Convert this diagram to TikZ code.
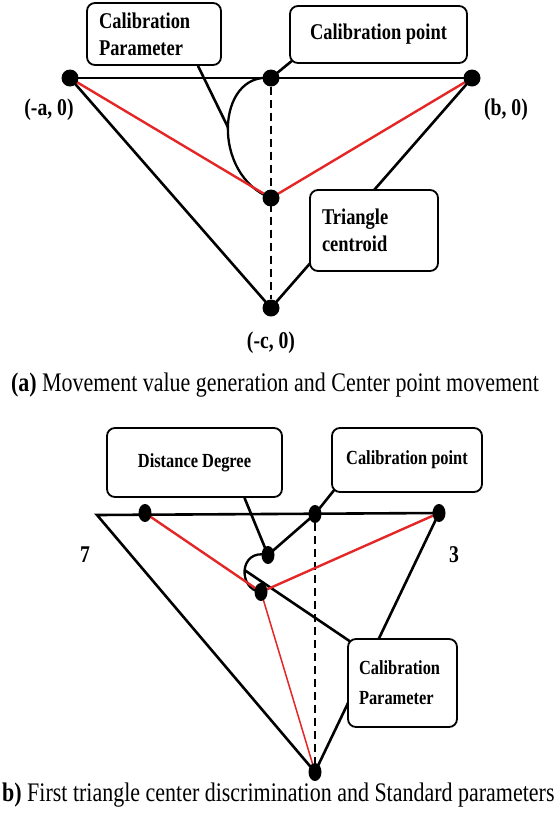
\documentclass[tikz,border=0pt]{standalone}
\usepackage{fontspec}
\setmainfont[FakeStretch=0.82]{Liberation Serif}
\usepackage{xcolor}
\usetikzlibrary{shapes.geometric,calc}
\definecolor{tcredc}{RGB}{228,38,38}
\pgfdeclarelayer{bg}
\pgfsetlayers{bg,main}
\tikzset{
tcbox/.style={rectangle,rounded corners=8pt,draw,line width=1.8pt,fill=white,inner sep=0pt},
tcboxa/.style={tcbox,font=\fontsize{22.5}{27}\selectfont\bfseries},
tcboxb/.style={tcbox,font=\fontsize{20}{30}\selectfont\bfseries},
tcdot/.style={circle,fill,inner sep=0pt,minimum size=17pt},
tcdotb/.style={ellipse,fill,inner sep=0pt,minimum width=13pt,minimum height=18pt},
tcline/.style={line width=2.6pt},
tcarc/.style={line width=2.3pt},
tcred/.style={line width=2.4pt,tcredc},
tcdash/.style={line width=2pt,dash pattern=on 8pt off 5pt},
tclabel/.style={font=\fontsize{24}{28}\selectfont\bfseries,inner sep=0pt},
tccap/.style={font=\fontsize{26.8}{30}\selectfont,inner sep=0pt}
}
\begin{document}
\begin{tikzpicture}[
x=1pt,
y=1pt
]
\useasboundingbox (0,0) rectangle (560,-815);
% (a) movement value generation
\node[tcboxa,align=left,text width=110pt,minimum width=134pt,minimum height=62pt]
  (calparA) at (154,-34) {Calibration\\Parameter};
\node[tcboxa,minimum width=177pt,minimum height=57pt]
  (calptA) at (378.5,-34.5) {Calibration point};
\node[tcboxa,align=left,text width=104pt,minimum width=128pt,minimum height=81pt]
  (tricenA) at (374,-230.5) {Triangle\\centroid};
\node[tcdot] (A) at (70,-78) {};
\node[tcdot] (M) at (271,-78) {};
\node[tcdot] (B) at (472,-78) {};
\node[tcdot] (C) at (271,-198) {};
\node[tcdot] (D) at (271,-308) {};
\node[tclabel] (am) at (49,-110) {(-a, 0)};
\node[tclabel] (bz) at (506,-110) {(b, 0)};
\node[tclabel] (cz) at (271,-343) {(-c, 0)};
\node[tccap] (capA) at (275,-385) {\textbf{(a)} Movement value generation and Center point movement};
\begin{pgfonlayer}{bg}
\draw[tcline] (A.center) -- (B.center);
\draw[tcline] (A.center) -- (D.center) -- (B.center);
\draw[tcdash] (M) -- (D);
\draw[tcarc] (M.center) .. controls (216,-72) and (211,-175) .. (C.center) coordinate[pos=0.5] (arcpt);
\draw[tcline] (arcpt) -- ($(calparA.south)+(44,0)$);
\draw[tcline] (M.center) -- ($(calptA.south west)+(4,4)$);
\draw[tcred] (A.center) -- (C.center) -- (B.center);
\end{pgfonlayer}
% (b) first triangle center discrimination
\node[tcboxb,minimum width=175pt,minimum height=69pt]
  (distdeg) at (194.5,-462.5) {Distance Degree};
\node[tcboxb,minimum width=150pt,minimum height=64pt]
  (calptB) at (407,-460) {Calibration point};
\node[tcboxb,align=left,text width=87pt,minimum width=109pt,minimum height=88pt]
  (calparB) at (402.5,-683) {Calibration\\Parameter};
\coordinate (L) at (97,-515);
\node[tcdotb] (P1) at (145,-513) {};
\node[tcdotb] (P2) at (315,-514) {};
\node[tcdotb] (P3) at (439,-513) {};
\node[tcdotb] (Q) at (315,-772) {};
\node[tcdotb] (C2) at (261,-592) {};
\node[tcdotb] (D2) at (268,-555) {};
\node[tclabel] (seven) at (85,-555) {7};
\node[tclabel] (three) at (454,-555) {3};
\node[tccap,anchor=west] (capB) at (2,-795) {\textbf{b)} First triangle center discrimination and Standard parameters};
\begin{pgfonlayer}{bg}
\draw[tcline] (P3.center) -- (L) -- (Q.center) -- (P3.center);
\draw[tcdash] (P2) -- (Q);
\draw[tcline] (D2.center) -- (P2.center) -- ($(calptB.south west)+(4,4)$);
\draw[tcline] ($(distdeg.south)+(50,0)$) -- (D2.center);
\draw[tcarc] (D2.center) .. controls (238,-548) and (238,-590) .. (C2.center) coordinate[pos=0.5] (curlpt);
\draw[tcline] (curlpt) -- ($(calparB.north west)+(4,-4)$);
\draw[tcred] (P1.center) -- (C2.center) -- (P3.center);
\draw[tcred,line width=1.5pt] (C2.center) -- (Q.center);
\end{pgfonlayer}
\end{tikzpicture}
\end{document}
